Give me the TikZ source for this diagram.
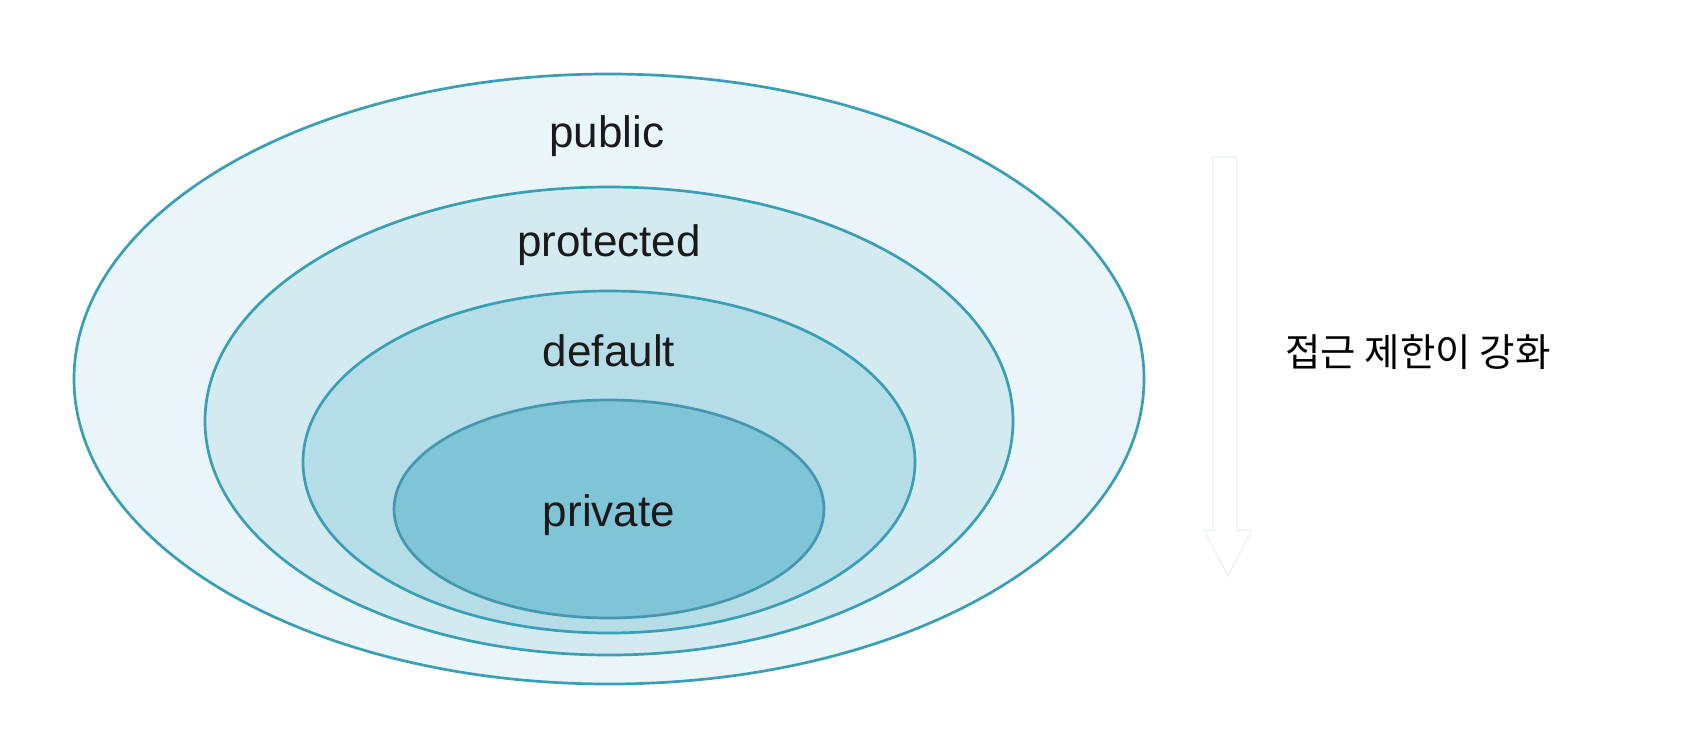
\documentclass[tikz,border=0pt]{standalone}
\usepackage{fontspec}
\setmainfont{Liberation Sans}
\newfontfamily\krfont{Noto Sans CJK KR}
\definecolor{ringline}{HTML}{3A9FB5}
\definecolor{privline}{HTML}{4597AE}
\definecolor{fillpub}{HTML}{E9F5F9}
\definecolor{fillprot}{HTML}{D3EAF0}
\definecolor{filldef}{HTML}{B4DDE8}
\definecolor{fillpriv}{HTML}{7FC4D7}
\definecolor{arrowline}{HTML}{E9F0F1}
\definecolor{txt}{HTML}{1A1A1A}
\begin{document}
\begin{tikzpicture}[x=1pt,y=-1pt,
  ring/.style={draw=ringline,line width=2.7pt},
  lbl/.style={font=\fontsize{44}{48}\selectfont,text=txt,inner sep=0pt}]
\useasboundingbox (0,0) rectangle (1704,730);
\fill[white] (0,0) rectangle (1704,730);
% rings
\draw[ring,fill=fillpub]  (609,379) ellipse [x radius=535pt, y radius=305pt];
\draw[ring,fill=fillprot] (609,421) ellipse [x radius=404pt, y radius=234pt];
\draw[ring,fill=filldef]  (609,462) ellipse [x radius=306pt, y radius=171pt];
\draw[draw=privline,line width=2.7pt,fill=fillpriv] (609,509) ellipse [x radius=215pt, y radius=109pt];
% labels
\node[lbl] (public)    at (607,136) {public};
\node[lbl] (protected) at (609,245) {protected};
\node[lbl] (default)   at (609,351) {default};
\node[lbl] (private)   at (609,515) {private};
% hollow arrow
\draw[arrowline,line width=1.2pt,fill=white,line join=miter]
  (1213,157) -- (1237,157) -- (1237,530) -- (1252,530) -- (1228,576)
  -- (1204,530) -- (1213,530) -- cycle;
\node[font=\krfont\fontsize{38.5}{42}\selectfont,text=black,inner sep=0pt] (dir) at (1418,352) {접근 제한이 강화};
\end{tikzpicture}
\end{document}
